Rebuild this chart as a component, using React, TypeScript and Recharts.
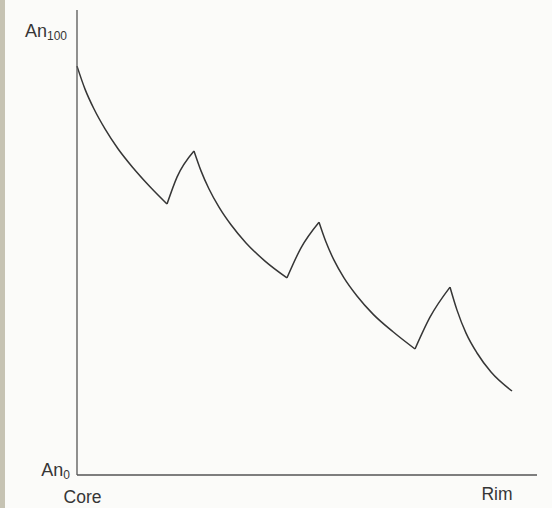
import { LineChart, Line, XAxis, YAxis } from "recharts";

// An content vs position, core (0) to rim (100); each zone
const seg1 = [
  { x: 0, an: 92.5 },
  { x: 1.74, an: 87.3 },
  { x: 3.7, an: 82.8 },
  { x: 6.09, an: 78.3 },
  { x: 8.91, an: 73.8 },
  { x: 12.17, an: 69.5 },
  { x: 15.87, an: 65.2 },
  { x: 19.57, an: 61.3 },
];
const rise1 = [
  { x: 19.57, an: 61.3 },
  { x: 21.74, an: 67.4 },
  { x: 25.43, an: 73.3 },
];
const seg2 = [
  { x: 25.43, an: 73.3 },
  { x: 26.96, an: 68.8 },
  { x: 28.7, an: 64.7 },
  { x: 30.87, an: 60.6 },
  { x: 33.48, an: 56.6 },
  { x: 36.74, an: 52.5 },
  { x: 40.87, an: 48.4 },
  { x: 45.65, an: 44.6 },
];
const rise2 = [
  { x: 45.65, an: 44.6 },
  { x: 48.7, an: 51.4 },
  { x: 52.61, an: 57.2 },
];
const seg3 = [
  { x: 52.61, an: 57.2 },
  { x: 54.13, an: 52.7 },
  { x: 55.87, an: 48.6 },
  { x: 58.04, an: 44.6 },
  { x: 60.87, an: 40.5 },
  { x: 64.35, an: 36.4 },
  { x: 68.7, an: 32.4 },
  { x: 73.48, an: 28.5 },
];
const rise3 = [
  { x: 73.48, an: 28.5 },
  { x: 76.74, an: 35.7 },
  { x: 81.09, an: 42.5 },
];
const seg4 = [
  { x: 81.09, an: 42.5 },
  { x: 82.61, an: 37.3 },
  { x: 84.57, an: 32.1 },
  { x: 86.96, an: 27.6 },
  { x: 90.0, an: 23.3 },
  { x: 94.57, an: 19.0 },
];
const segments = [seg1, rise1, seg2, rise2, seg3, rise3, seg4];

const yTicks = [0, 100];
const xTicks = [1.2, 91.3];
const xLabels: Record<number, string> = { 1.2: "Core", 91.3: "Rim" };

const font = "'Liberation Sans', Arial, sans-serif";
const ink = "#363636";

function AnTick({ x, y, payload }: any) {
  const top = payload.value === 100;
  return (
    <text
      x={top ? x - 2 : x + 1}
      y={top ? y - 2 : y - 5}
      textAnchor="end"
      dominantBaseline="central"
      fill={ink}
      fontFamily={font}
      fontSize={18}
    >
      An
      <tspan fontSize={12} dy={5}>{payload.value}</tspan>
    </text>
  );
}

function PosTick({ x, y, payload }: any) {
  const core = payload.value === 1.2;
  return (
    <text
      x={x}
      y={core ? y + 14 : y + 11}
      textAnchor="middle"
      dominantBaseline="central"
      fill={ink}
      fontFamily={font}
      fontSize={17.5}
    >
      {xLabels[payload.value]}
    </text>
  );
}

export default function App() {
  return (
    <div style={{ position: "absolute", left: 0, top: 0, width: 552, height: 508, background: "#fbfbf9" }}>
      <div style={{ position: "absolute", left: 0, top: 0, width: 5, height: 508, background: "#c6c3b3" }} />
      <LineChart width={552} height={508} margin={{ top: 10, right: 15, bottom: 0, left: 0 }}>
        <XAxis
          type="number"
          dataKey="x"
          domain={[0, 100]}
          ticks={xTicks}
          tick={<PosTick />}
          tickLine={false}
          axisLine={{ stroke: "#555", strokeWidth: 1.3 }}
          height={33}
          allowDuplicatedCategory={false}
        />
        <YAxis
          type="number"
          domain={[0, 105.2]}
          ticks={yTicks}
          tick={<AnTick />}
          tickLine={false}
          axisLine={{ stroke: "#555", strokeWidth: 1.3 }}
          width={77}
        />
        {segments.map((s, i) => (
          <Line
            key={i}
            data={s}
            dataKey="an"
            type="monotone"
            stroke={ink}
            strokeWidth={1.5}
            dot={false}
            activeDot={false}
            isAnimationActive={false}
          />
        ))}
      </LineChart>
    </div>
  );
}
